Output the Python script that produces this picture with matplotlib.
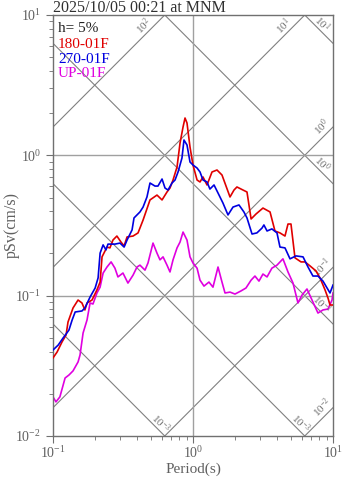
import numpy as np
import matplotlib
matplotlib.use("Agg")
import matplotlib.pyplot as plt

plt.rcParams['font.family'] = ['Liberation Serif', 'DejaVu Serif']
plt.rcParams['mathtext.fontset'] = 'custom'
plt.rcParams['mathtext.rm'] = 'Liberation Serif'
plt.rcParams['mathtext.it'] = 'Liberation Serif'

# 180-01F
t_180 = [0.100, 0.107, 0.116, 0.124, 0.128, 0.139, 0.151, 0.161, 0.169, 0.175,
         0.190, 0.206, 0.217, 0.224, 0.243, 0.255, 0.268, 0.286, 0.306, 0.322,
         0.338, 0.373, 0.405, 0.440, 0.493, 0.553, 0.601, 0.652, 0.685, 0.720,
         0.769, 0.808, 0.849, 0.877, 0.906, 0.952, 1.000, 1.069, 1.122, 1.179,
         1.259, 1.367, 1.484, 1.611, 1.838, 1.963, 2.06, 2.275, 2.43, 2.60,
         2.82, 3.16, 3.55, 3.85, 4.18, 4.54, 4.77, 5.01, 5.35, 5.91,
         6.31, 6.85, 7.56, 8.07, 8.77, 9.21, 9.52, 10.0]
sv_180 = [0.0360, 0.0397, 0.0468, 0.0525, 0.0649, 0.0817, 0.0931, 0.0887, 0.0791, 0.0887,
          0.0931, 0.110, 0.125, 0.189, 0.222, 0.219, 0.249, 0.266, 0.241, 0.226,
          0.262, 0.266, 0.280, 0.346, 0.481, 0.521, 0.481, 0.548, 0.585, 0.667,
          0.826, 1.224, 1.592, 1.845, 1.70, 1.146, 0.853, 0.667, 0.646, 0.701,
          0.615, 0.761, 0.786, 0.724, 0.505, 0.566, 0.595, 0.566, 0.548, 0.352,
          0.382, 0.421, 0.395, 0.289, 0.280, 0.266, 0.324, 0.324, 0.186, 0.174,
          0.174, 0.163, 0.150, 0.134, 0.110, 0.0962, 0.0858, 0.0858]

# 270-01F
t_270 = [0.100, 0.109, 0.118, 0.124, 0.130, 0.137, 0.144, 0.161, 0.169, 0.184,
         0.200, 0.210, 0.217, 0.228, 0.239, 0.247, 0.277, 0.301, 0.322, 0.338,
         0.367, 0.379, 0.418, 0.440, 0.469, 0.493, 0.535, 0.562, 0.601, 0.631,
         0.663, 0.708, 0.744, 0.782, 0.834, 0.862, 0.906, 0.952, 1.000, 1.069,
         1.122, 1.179, 1.259, 1.321, 1.413, 1.509, 1.637, 1.778, 1.931, 2.13,
         2.31, 2.43, 2.64, 2.86, 3.11, 3.21, 3.38, 3.66, 3.98, 4.18,
         4.54, 4.93, 5.44, 6.11, 6.63, 7.19, 7.81, 8.48, 9.52, 10.0]
sv_270 = [0.0410, 0.0445, 0.0499, 0.0533, 0.0569, 0.0671, 0.0765, 0.0778, 0.0817, 0.0978,
          0.1134, 0.134, 0.201, 0.230, 0.212, 0.233, 0.233, 0.237, 0.222, 0.249,
          0.294, 0.358, 0.395, 0.428, 0.505, 0.635, 0.604, 0.604, 0.678, 0.585,
          0.566, 0.635, 0.667, 0.761, 0.957, 1.286, 1.185, 0.896, 0.853, 0.812,
          0.761, 0.667, 0.646, 0.575, 0.615, 0.539, 0.457, 0.376, 0.428, 0.443,
          0.395, 0.358, 0.275, 0.280, 0.303, 0.319, 0.289, 0.299, 0.280, 0.222,
          0.219, 0.183, 0.192, 0.189, 0.160, 0.138, 0.138, 0.127, 0.1045, 0.119]

# UP-01F
t_up = [0.100, 0.105, 0.112, 0.122, 0.130, 0.139, 0.151, 0.156, 0.164, 0.175,
        0.184, 0.193, 0.206, 0.217, 0.228, 0.243, 0.260, 0.277, 0.291, 0.316,
        0.343, 0.373, 0.398, 0.418, 0.454, 0.477, 0.518, 0.553, 0.581, 0.611,
        0.652, 0.685, 0.720, 0.769, 0.808, 0.849, 0.906, 0.952, 1.000, 1.069,
        1.122, 1.198, 1.30, 1.389, 1.509, 1.611, 1.693, 1.838, 1.995, 2.20,
        2.39, 2.60, 2.77, 2.96, 3.16, 3.38, 3.66, 3.98, 4.39, 4.77,
        5.18, 5.62, 6.01, 6.52, 7.08, 7.81, 8.48, 9.21, 9.84, 10.0]
sv_up = [0.0190, 0.0175, 0.0190, 0.0259, 0.0272, 0.0291, 0.0337, 0.0378, 0.0542, 0.0671,
         0.0887, 0.0872, 0.1045, 0.115, 0.145, 0.160, 0.174, 0.157, 0.136, 0.145,
         0.123, 0.140, 0.160, 0.165, 0.152, 0.171, 0.237, 0.201, 0.180, 0.189,
         0.165, 0.1475, 0.180, 0.219, 0.241, 0.284, 0.249, 0.189, 0.171, 0.157,
         0.129, 0.117, 0.125, 0.115, 0.160, 0.125, 0.1045, 0.106, 0.1027, 0.108,
         0.1134, 0.129, 0.138, 0.127, 0.1426, 0.136, 0.157, 0.165, 0.183, 0.1475,
         0.123, 0.0887, 0.101, 0.1116, 0.0931, 0.0752, 0.0791, 0.0803, 0.0931, 0.1045]

# tripartite grid: acceleration (ascending) and displacement (descending) lines
acc_exp = [2, 1, 0, -1, -2]
acc_labels = ['10$^{2}$', '10$^{1}$', '10$^{0}$', '10$^{-1}$', '10$^{-2}$']
disp_exp = [1, 0, -1, -2, -3]
disp_labels = ['10$^{1}$', '10$^{0}$', '10$^{-1}$', '10$^{-3}$', '10$^{-3}$']

fig = plt.figure(figsize=(3.47, 4.78), dpi=100)
ax = fig.add_axes([53/347, 42/478, 280/347, 421/478])
ax.set_xscale('log')
ax.set_yscale('log')
ax.set_xlim(0.1, 10)
ax.set_ylim(0.01, 10)

gcol = '#808080'
tt = np.array([0.05, 20.0])
for e, lab in zip(acc_exp, acc_labels):
    sa = 10.0 ** e
    ax.plot(tt, sa * tt / (2 * np.pi), color=gcol, lw=0.8, zorder=1)
    sv_end = sa * 10 / (2 * np.pi)
    if sv_end > 10:
        xy = (2 * np.pi * 10 / sa, 10)
        off = (-21, -11)
    else:
        xy = (10, sv_end)
        off = (-11, 0)
    ax.annotate(lab, xy=xy, xytext=(off[0] * 0.72, off[1] * 0.72),
                textcoords='offset points', ha='center', va='center',
                rotation=45, fontsize=8, color='#707070', annotation_clip=False)

for e, lab in zip(disp_exp, disp_labels):
    sd = 10.0 ** e
    ax.plot(tt, 2 * np.pi * sd / tt, color=gcol, lw=0.8, zorder=1)
    sv_end = 2 * np.pi * sd / 10
    if sv_end >= 0.01:
        xy = (10, sv_end)
        off = (-11, 20)
    else:
        xy = (2 * np.pi * sd / 0.01, 0.01)
        off = (-4, 13)
    ax.annotate(lab, xy=xy, xytext=(off[0] * 0.72, off[1] * 0.72),
                textcoords='offset points', ha='center', va='center',
                rotation=-45, fontsize=8, color='#707070', annotation_clip=False)

for v in [0.1, 1]:
    ax.axhline(v, color='#a0a0a0', lw=1.0, zorder=1)
ax.axvline(1, color='#a0a0a0', lw=1.0, zorder=1)

ax.plot(t_180, sv_180, color='#e00000', lw=1.2, zorder=3)
ax.plot(t_270, sv_270, color='#0000e0', lw=1.2, zorder=4)
ax.plot(t_up, sv_up, color='#e000e0', lw=1.2, zorder=2)

ax.text(0.018, 0.967, 'h= 5%', transform=ax.transAxes, fontsize=11, color='#202020', va='center')
ax.text(0.018, 0.931, '180-01F', transform=ax.transAxes, fontsize=11, color='#e00000', va='center')
ax.text(0.018, 0.895, '270-01F', transform=ax.transAxes, fontsize=11, color='#0000e0', va='center')
ax.text(0.018, 0.860, 'UP-01F', transform=ax.transAxes, fontsize=11, color='#e000e0', va='center')

for s in ax.spines.values():
    s.set_color('#707070')
    s.set_linewidth(1.0)
ax.tick_params(which='both', colors='#707070', labelcolor='#606060', labelsize=10)
ax.tick_params(which='major', length=5)
ax.tick_params(which='minor', length=3)
ax.tick_params(axis='x', pad=1.5)

ax.set_xlabel('Period(s)', fontsize=11, color='#606060', va='center')
ax.set_ylabel('pSv(cm/s)', fontsize=11.5, color='#606060', va='center')
ax.xaxis.set_label_coords(0.5, -0.079)
ax.yaxis.set_label_coords(-0.146, 0.5)

fig.text(53/347, 1 - 12/478, '2025/10/05 00:21 at MNM', fontsize=11.5,
         color='#303030', va='baseline', ha='left')

fig.savefig('out.png', dpi=100)
